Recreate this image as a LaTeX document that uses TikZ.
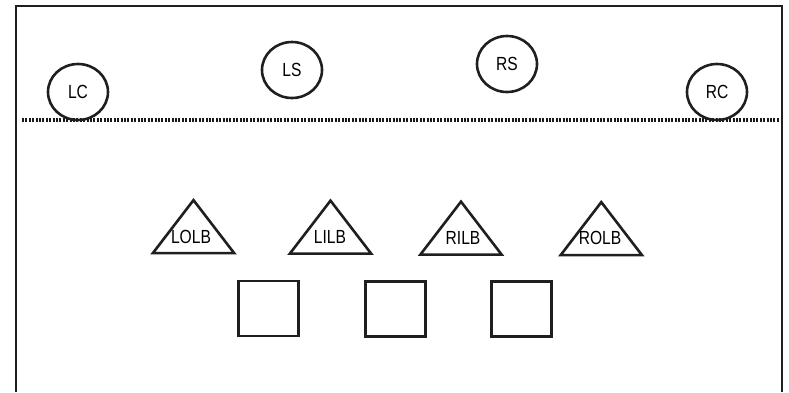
\documentclass[tikz,border=0pt]{standalone}
\usepackage{fontspec}
\setmainfont{Liberation Sans}
\newfontfamily\condsans[FakeStretch=0.82]{Liberation Sans}
\usetikzlibrary{shapes.geometric}
\begin{document}
\begin{tikzpicture}[x=1pt,y=-1pt,
  ink/.style={draw=black!88,line width=2.6pt},
  player/.style={ink,ellipse,minimum width=60pt,minimum height=56pt,inner sep=0pt,font=\condsans\fontsize{19}{19}\selectfont},
  lb/.style={ink,isosceles triangle,isosceles triangle apex angle=75,shape border rotate=90,minimum width=79pt,minimum height=53pt,inner sep=0pt,anchor=apex},
  lbtext/.style={font=\condsans\fontsize{19}{19}\selectfont,inner sep=0pt},
  lineman/.style={ink,rectangle,minimum width=60pt,minimum height=55pt,inner sep=0pt}]
\useasboundingbox (0,0) rectangle (789,392);
% frame
\coordinate (fbl) at (16,392);
\coordinate (ftl) at (16,6);
\coordinate (ftr) at (782,6);
\coordinate (fbr) at (782,392);
\draw[ink] (fbl) -- (ftl) -- (ftr) -- (fbr);
% line of scrimmage
\coordinate (sl) at (22,120);
\coordinate (sr) at (780,120);
\draw[black!90,line width=4pt,dash pattern=on 2pt off 1.4pt] (sl) -- (sr);
% secondary
\node[player] (LC) at (78,92) {LC};
\node[player] (LS) at (292,70) {LS};
\node[player] (RS) at (507,64) {RS};
\node[player] (RC) at (717,92) {RC};
% linebackers
\node[lb] (LOLB) at (193.5,198) {};
\node[lb] (LILB) at (330.5,198.5) {};
\node[lb] (RILB) at (461,199.5) {};
\node[lb] (ROLB) at (601.3,200) {};
\node[lbtext] (tLOLB) at (191,237) {LOLB};
\node[lbtext] (tLILB) at (330,237) {LILB};
\node[lbtext] (tRILB) at (463,238) {RILB};
\node[lbtext] (tROLB) at (600,238) {ROLB};
% linemen
\node[lineman] (S1) at (268.3,308.5) {};
\node[lineman] (S2) at (395.7,309) {};
\node[lineman] (S3) at (521.7,309) {};
\end{tikzpicture}
\end{document}
